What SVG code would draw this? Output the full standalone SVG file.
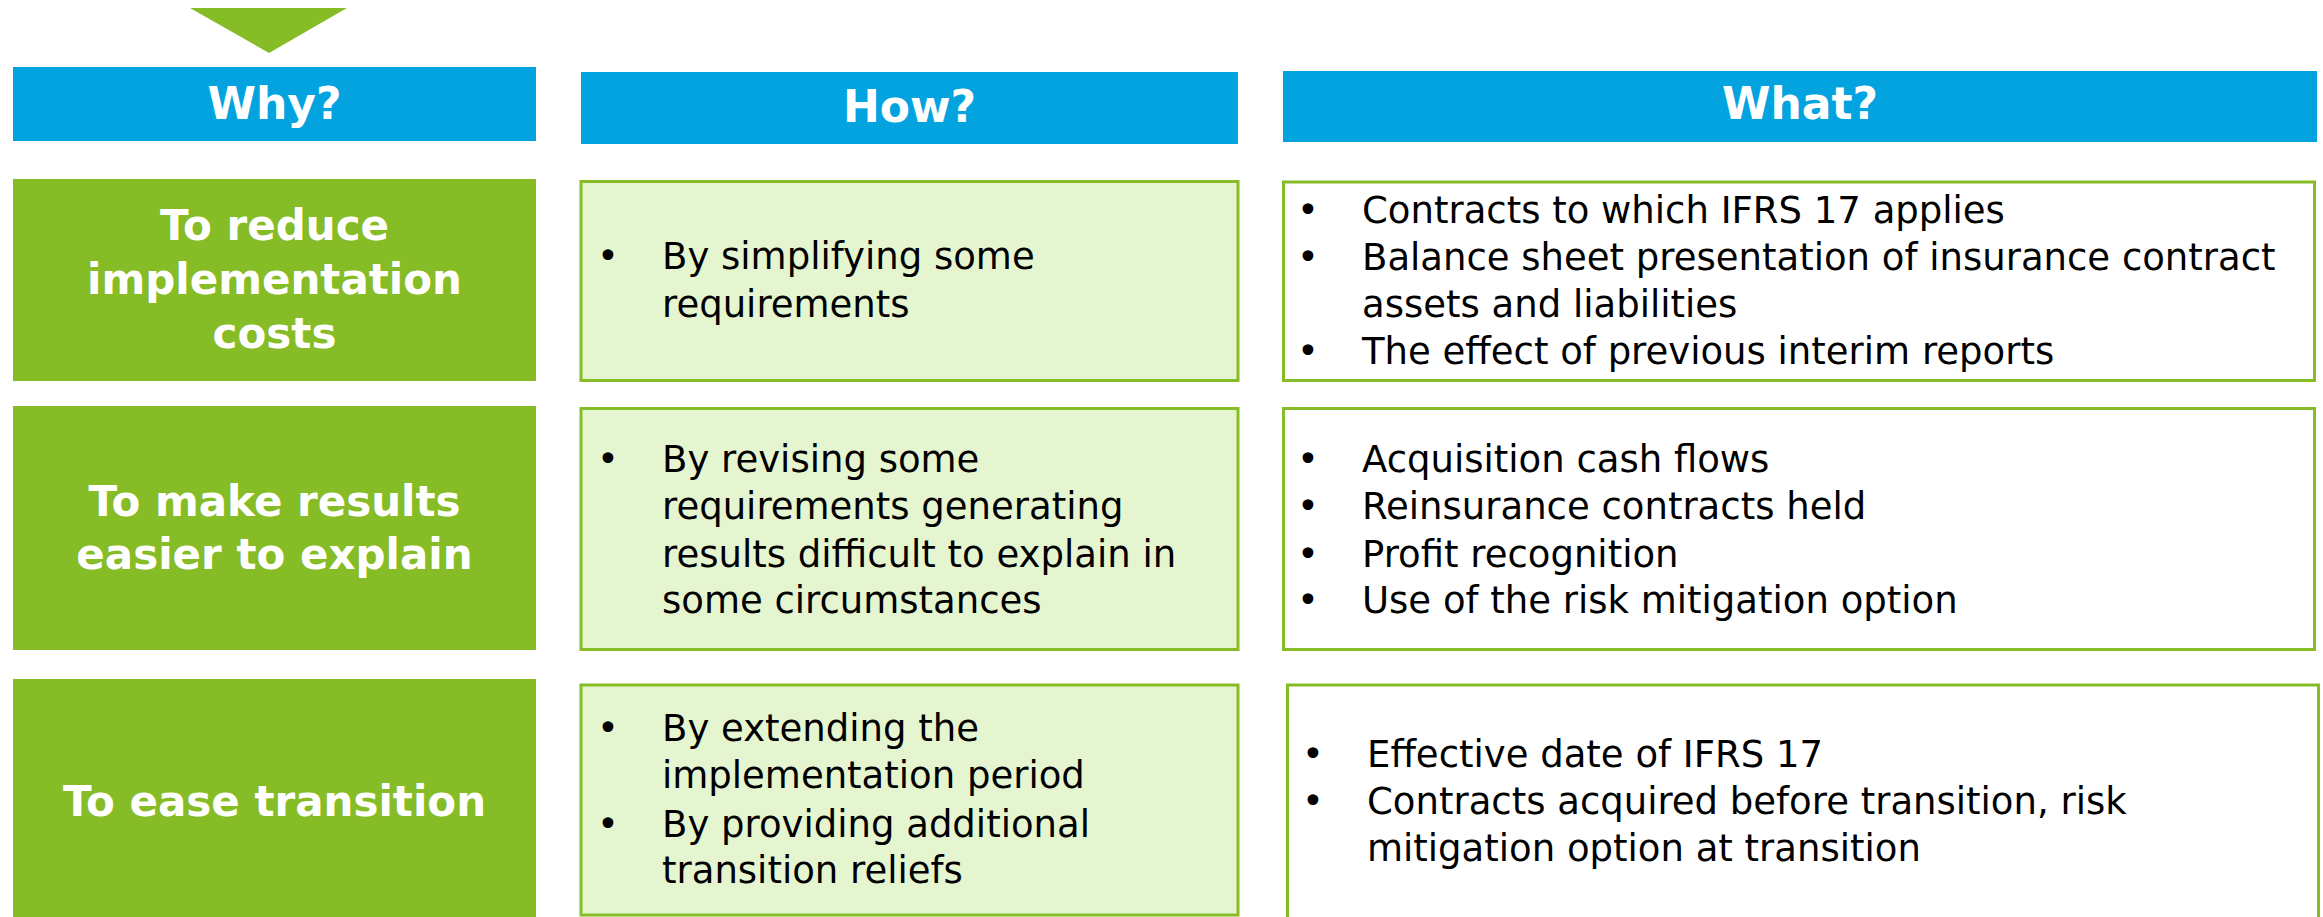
<svg xmlns="http://www.w3.org/2000/svg" width="2323" height="917" viewBox="0 0 2323 917">
<style>
.hdr{fill:#03A3E0}
.why{fill:#86BC25}
.how{fill:#E5F5D0;stroke:#86BC25;stroke-width:3}
.what{fill:#FFFFFF;stroke:#86BC25;stroke-width:3}
.ht{font-family:"DejaVu Sans",Verdana,sans-serif;font-weight:bold;font-size:44px;fill:#FFFFFF;text-anchor:middle}
.wt{font-family:"DejaVu Sans",Verdana,sans-serif;font-weight:bold;font-size:42px;fill:#FFFFFF;text-anchor:middle}
.bt{font-family:"DejaVu Sans",Verdana,sans-serif;font-size:37px;fill:#000000}
</style>
<rect width="2323" height="917" fill="#FFFFFF"/>
<g id="marker-triangle"><polygon points="190,8 347,8 269,53" fill="#86BC25"/></g>
<g id="hdr-why"><rect class="hdr" x="13" y="67" width="523" height="74"/><text class="ht" x="274.5" y="119">Why?</text></g>
<g id="hdr-how"><rect class="hdr" x="581" y="72" width="657" height="72"/><text class="ht" x="909.5" y="122">How?</text></g>
<g id="hdr-what"><rect class="hdr" x="1283" y="71" width="1034" height="71"/><text class="ht" x="1800" y="119">What?</text></g>
<g id="why-1"><rect class="why" x="13" y="179" width="523" height="202"/>
<text class="wt" x="274.5" y="240">To reduce</text><text class="wt" x="274.5" y="294">implementation</text><text class="wt" x="274.5" y="348">costs</text></g>
<g id="why-2"><rect class="why" x="13" y="406" width="523" height="244"/>
<text class="wt" x="274.5" y="516">To make results</text><text class="wt" x="274.5" y="569">easier to explain</text></g>
<g id="why-3"><rect class="why" x="13" y="679" width="523" height="240"/>
<text class="wt" x="274.5" y="816">To ease transition</text></g>
<g id="how-1"><rect class="how" x="581" y="181.5" width="657" height="199"/>
<text class="bt" x="597" y="269">•</text><text class="bt" x="662" y="269">By simplifying some</text><text class="bt" x="662" y="317">requirements</text></g>
<g id="how-2"><rect class="how" x="581" y="408.5" width="657" height="241"/>
<text class="bt" x="597" y="472">•</text><text class="bt" x="662" y="472">By revising some</text><text class="bt" x="662" y="519">requirements generating</text><text class="bt" x="662" y="566.5">results difficult to explain in</text><text class="bt" x="662" y="613">some circumstances</text></g>
<g id="how-3"><rect class="how" x="581" y="685" width="657" height="230"/>
<text class="bt" x="597" y="741">•</text><text class="bt" x="662" y="741">By extending the</text><text class="bt" x="662" y="788">implementation period</text>
<text class="bt" x="597" y="836.5">•</text><text class="bt" x="662" y="836.5">By providing additional</text><text class="bt" x="662" y="883">transition reliefs</text></g>
<g id="what-1"><rect class="what" x="1283.5" y="182" width="1031" height="198.5"/>
<text class="bt" x="1297" y="222.5">•</text><text class="bt" x="1362" y="222.5">Contracts to which IFRS 17 applies</text>
<text class="bt" x="1297" y="269.5">•</text><text class="bt" x="1362" y="269.5">Balance sheet presentation of insurance contract</text><text class="bt" x="1362" y="316.5">assets and liabilities</text>
<text class="bt" x="1297" y="364">•</text><text class="bt" x="1362" y="364">The effect of previous interim reports</text></g>
<g id="what-2"><rect class="what" x="1283.5" y="408.5" width="1031" height="241"/>
<text class="bt" x="1297" y="472">•</text><text class="bt" x="1362" y="472">Acquisition cash flows</text>
<text class="bt" x="1297" y="519">•</text><text class="bt" x="1362" y="519">Reinsurance contracts held</text>
<text class="bt" x="1297" y="566.5">•</text><text class="bt" x="1362" y="566.5">Profit recognition</text>
<text class="bt" x="1297" y="613">•</text><text class="bt" x="1362" y="613">Use of the risk mitigation option</text></g>
<g id="what-3"><rect class="what" x="1287.5" y="685" width="1031" height="240"/>
<text class="bt" x="1302" y="767">•</text><text class="bt" x="1367" y="767">Effective date of IFRS 17</text>
<text class="bt" x="1302" y="814">•</text><text class="bt" x="1367" y="814">Contracts acquired before transition, risk</text><text class="bt" x="1367" y="861">mitigation option at transition</text></g>
<g id="connectors"></g>
</svg>
